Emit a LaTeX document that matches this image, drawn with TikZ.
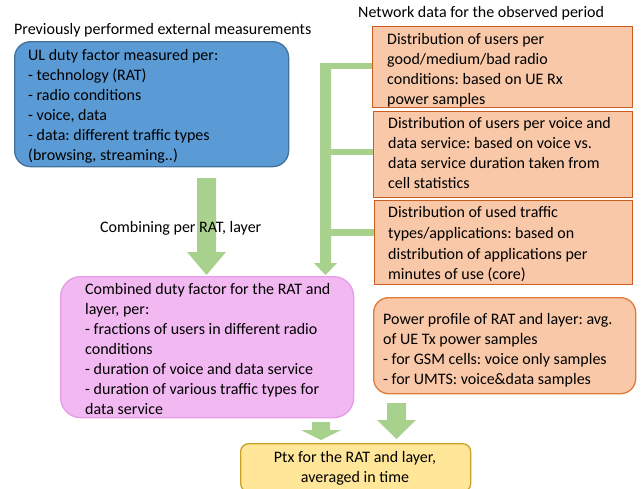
\documentclass[tikz,border=0pt]{standalone}
\usepackage{fontspec}
\setmainfont{Carlito}
\frenchspacing
\definecolor{bluefill}{HTML}{5B9BD5}
\definecolor{bluedraw}{HTML}{41719C}
\definecolor{orfill}{HTML}{F8C8A8}
\definecolor{ordraw}{HTML}{C95E1E}
\definecolor{or4draw}{HTML}{E07A38}
\definecolor{pkfill}{HTML}{F2B8F2}
\definecolor{pkdraw}{HTML}{E69CE6}
\definecolor{ylfill}{HTML}{FFE699}
\definecolor{yldraw}{HTML}{C9A227}
\definecolor{grn}{HTML}{A9D18E}
\newcommand\gdarrow[6]{% cx, ytop, yhead, ytip, halfbar, halfhead
  \fill[grn] (#1-#5,#2) -- (#1+#5,#2) -- (#1+#5,#3) -- (#1+#6,#3) -- (#1,#4) -- (#1-#6,#3) -- (#1-#5,#3) -- cycle;}
\begin{document}
\begin{tikzpicture}[x=1pt,y=-1pt,
  every node/.style={font=\fontsize{16}{20}\selectfont},
  boxbase/.style={anchor=north west, line width=1.3pt, inner sep=0pt},
  bluebox/.style={boxbase, fill=bluefill, draw=bluedraw, rounded corners=16pt},
  orbox/.style={boxbase, fill=orfill, draw=ordraw},
  pinkbox/.style={boxbase, fill=pkfill, draw=pkdraw, rounded corners=20pt},
  or4box/.style={boxbase, fill=orfill, draw=or4draw, rounded corners=15pt},
  ylbox/.style={boxbase, fill=ylfill, draw=yldraw, rounded corners=8pt},
  txt/.style={anchor=north west, align=left, inner sep=0pt},
  label/.style={anchor=west, inner sep=0pt}]
\useasboundingbox (0,0) rectangle (642,488);

% titles
\node[label] (t1) at (14,30) {Previously performed external measurements};
\node[label] (t2) at (358,13) {Network data for the observed period};

% boxes
\node[bluebox, minimum width=274pt, minimum height=125pt] (blue) at (14,41) {};
\node[orbox, minimum width=260pt, minimum height=81pt] (o1) at (372,26) {};
\node[orbox, minimum width=259pt, minimum height=86pt] (o2) at (373,111) {};
\node[orbox, minimum width=258pt, minimum height=84pt] (o3) at (374,200) {};
\node[pinkbox, minimum width=293pt, minimum height=141pt] (pink) at (60,276) {};
\node[or4box, minimum width=262pt, minimum height=96pt] (o4) at (373,297) {};
\node[ylbox, minimum width=230pt, minimum height=48pt] (yl) at (240,443) {};

% box texts
\node[txt] (blue-t) at (28,46)
 {\strut UL duty factor measured per:\\- technology (RAT)\\- radio conditions\\- voice, data\\- data: different traffic types\\(browsing, streaming..)};
\node[txt] (o1-t) at (387,30)
 {\strut Distribution of users per\\good/medium/bad radio\\conditions: based on UE Rx\\power samples};
\node[txt] (o2-t) at (388,114)
 {\strut Distribution of users per voice and\\data service: based on voice vs.\\data service duration taken from\\cell statistics};
\node[txt, font=\fontsize{16}{20.7}\selectfont] (o3-t) at (388,203)
 {\strut Distribution of used traffic\\types/applications: based on\\distribution of applications per\\minutes of use (core)};
\node[txt] (pink-t) at (85,280)
 {\strut Combined duty factor for the RAT and\\layer, per:\\- fractions of users in different radio\\conditions\\- duration of voice and data service\\- duration of various traffic types for\\data service};
\node[txt] (o4-t) at (383,310)
 {\strut Power profile of RAT and layer: avg.\\of UE Tx power samples\\- for GSM cells: voice only samples\\- for UMTS: voice\&data samples};
\node[txt, anchor=north, align=center] (yl-t) at (355,448)
 {\strut Ptx for the RAT and layer,\\averaged in time};

% green connectors
\coordinate (a1) at (206.5,178);
\coordinate (bus) at (325.5,63);
\gdarrow{206.5}{178}{252}{275}{9.5}{19.5}
\gdarrow{325.5}{63}{263}{275}{5.5}{11.5}
\fill[grn] (bus) ++(-5.5,0) rectangle (o1.west |- 0,69);
\fill[grn] (331,149) rectangle (o2.west |- 0,155);
\fill[grn] (331,229) rectangle (o3.west |- 0,236);
\gdarrow{321}{422}{430}{440}{9}{20}
\gdarrow{396.5}{403}{420}{439}{9.5}{19.5}

\node[label] (comb) at (100,228) {Combining per RAT, layer};
\end{tikzpicture}
\end{document}
